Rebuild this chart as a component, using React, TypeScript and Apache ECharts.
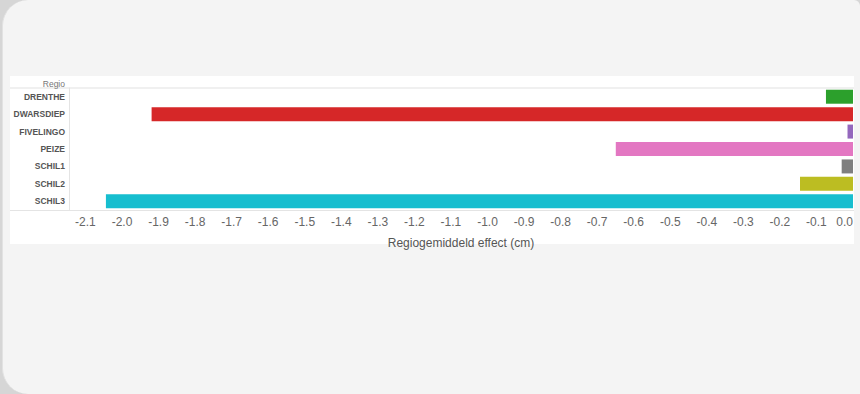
import React, { useEffect, useRef } from "react";
import * as echarts from "echarts";

const categories = ["DRENTHE", "DWARSDIEP", "FIVELINGO", "PEIZE", "SCHIL1", "SCHIL2", "SCHIL3"];
const effects = [-0.074, -1.919, -0.015, -0.649, -0.031, -0.145, -2.044];
const tickValues = [-2.1, -2.0, -1.9, -1.8, -1.7, -1.6, -1.5, -1.4, -1.3, -1.2, -1.1, -1.0, -0.9, -0.8, -0.7, -0.6, -0.5, -0.4, -0.3, -0.2, -0.1, 0.0];
const palette = ["#2ca02c", "#d62728", "#9467bd", "#e377c2", "#7f7f7f", "#bcbd22", "#17becf"];
const axisTitle = "Regiogemiddeld effect (cm)";
const headerLabel = "Regio";

export default function App() {
  const ref = useRef<HTMLDivElement>(null);

  useEffect(() => {
    if (!ref.current) return;
    const chart = echarts.init(ref.current, undefined, { renderer: "svg" });
    const lineColor = "#e4e4e4";
    chart.setOption({
      animation: false,
      backgroundColor: "transparent",
      textStyle: { fontFamily: "'Liberation Sans', Arial, sans-serif" },
      grid: { left: 69, right: 7, top: 88, bottom: 184, containLabel: false, outerBoundsMode: "none" },
      xAxis: {
        type: "value",
        min: -2.145,
        max: 0,
        axisLine: { show: false },
        axisTick: { show: false },
        splitLine: { show: false },
        axisLabel: {
          customValues: tickValues,
          formatter: (v: number) => v.toFixed(1),
          color: "#666",
          fontSize: 12,
          margin: 6,
          hideOverlap: false,
          alignMaxLabel: "right",
          fontFamily: "'Liberation Sans', Arial, sans-serif",
        },
        name: axisTitle,
        nameLocation: "middle",
        nameGap: 27,
        nameTextStyle: { color: "#555", fontSize: 12, fontFamily: "'Liberation Sans', Arial, sans-serif" },
      },
      yAxis: {
        type: "category",
        data: categories,
        inverse: true,
        axisLine: { show: true, onZero: false, lineStyle: { color: lineColor, width: 1 } },
        axisTick: { show: false },
        splitLine: { show: false },
        axisLabel: {
          color: "#555",
          fontSize: 8.5,
          fontWeight: "bold",
          margin: 4,
          fontFamily: "'Liberation Sans', Arial, sans-serif",
        },
      },
      series: [
        {
          type: "bar",
          barWidth: 14,
          data: effects.map((v, i) => ({ value: v, itemStyle: { color: palette[i] } })),
        },
      ],
      graphic: [
        { type: "line", shape: { x1: 10, y1: 88, x2: 854, y2: 88 }, style: { stroke: "#ebebeb", lineWidth: 1.5 } },
        { type: "line", shape: { x1: 10, y1: 210.5, x2: 854, y2: 210.5 }, style: { stroke: lineColor, lineWidth: 1 } },
        {
          type: "text",
          x: 65,
          y: 84,
          style: {
            text: headerLabel,
            fill: "#777",
            fontSize: 8.5,
            fontFamily: "'Liberation Sans', Arial, sans-serif",
            align: "right",
            verticalAlign: "middle",
          },
        },
      ],
    });
    return () => chart.dispose();
  }, []);

  return (
    <div style={{ position: "fixed", left: 0, top: 0, width: 860, height: 394, background: "#d6d6d6", overflow: "hidden" }}>
      <div
        style={{
          position: "absolute",
          left: 2,
          top: 0,
          width: 858,
          height: 394,
          background: "#f4f4f4",
          borderLeft: "1px solid #e2e2e2",
          borderRadius: "26px 6px 0 26px",
          boxSizing: "border-box",
        }}
      />
      <div style={{ position: "absolute", left: 10, top: 76, width: 844, height: 168, background: "#ffffff" }} />
      <div ref={ref} style={{ position: "absolute", left: 0, top: 0, width: 860, height: 394 }} />
    </div>
  );
}
